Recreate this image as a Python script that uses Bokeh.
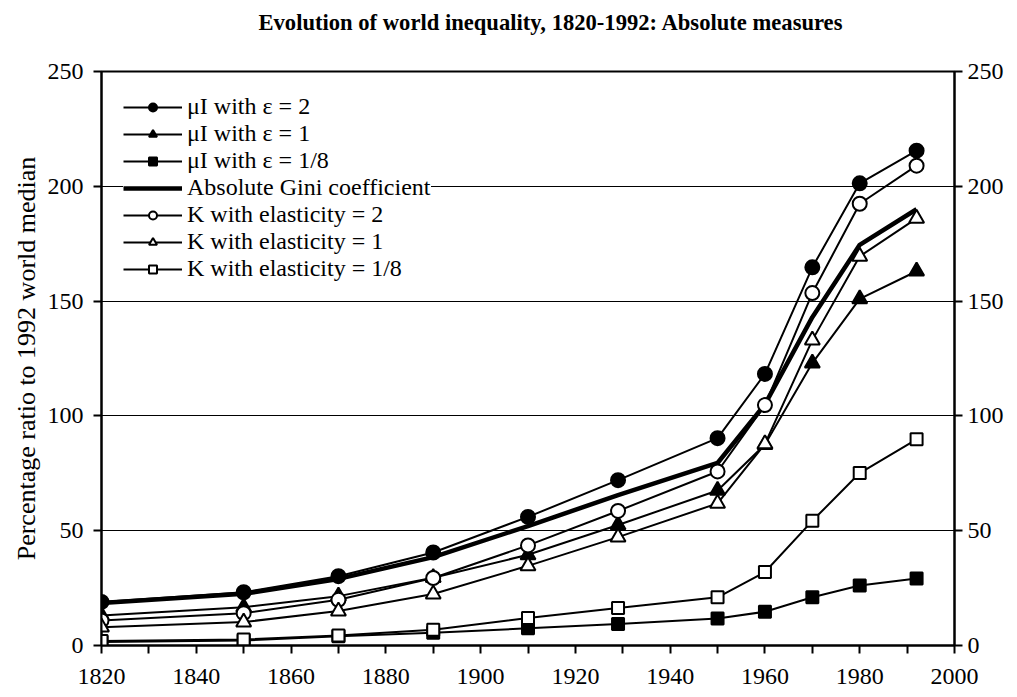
from bokeh.plotting import figure
from bokeh.models import (FixedTicker, LinearAxis, Legend, LegendItem, Range1d,
                          CustomJSTickFormatter)
from bokeh.embed import file_html
from bokeh.resources import INLINE

# ---- data ----
years = [1820, 1850, 1870, 1890, 1910, 1929, 1950, 1960, 1970, 1980, 1992]
mu_eps_2 = [19.0, 23.2, 30.2, 40.5, 56.0, 72.0, 90.3, 118.3, 164.7, 201.3, 215.5]
mu_eps_1 = [13.1, 16.7, 21.5, 29.5, 39.5, 52.5, 67.5, 87.5, 123.0, 151.0, 163.0]
mu_eps_8th = [1.5, 2.2, 4.0, 5.5, 7.5, 9.4, 11.8, 14.7, 21.0, 26.1, 29.2]
abs_gini = [18.5, 22.5, 29.0, 38.5, 52.0, 65.5, 79.5, 105.0, 143.0, 174.5, 190.0]
k_elast_2 = [10.9, 14.1, 19.9, 29.4, 43.6, 58.6, 75.8, 104.7, 153.5, 192.4, 209.0]
k_elast_1 = [8.0, 10.2, 15.0, 22.4, 34.7, 47.2, 61.9, 87.8, 133.0, 169.5, 186.0]
k_elast_8th = [2.0, 2.6, 4.4, 6.9, 12.0, 16.3, 21.0, 32.0, 54.3, 75.1, 89.8]

series_labels = [
    "\u03bcI with \u03b5 = 2",
    "\u03bcI with \u03b5 = 1",
    "\u03bcI with \u03b5 = 1/8",
    "Absolute Gini coefficient",
    "K with elasticity = 2",
    "K with elasticity = 1",
    "K with elasticity = 1/8",
]

x_ticks = [1820, 1840, 1860, 1880, 1900, 1920, 1940, 1960, 1980, 2000]
x_minor_ticks = [1830, 1850, 1870, 1890, 1910, 1930, 1950, 1970, 1990]
y_ticks = [0, 50, 100, 150, 200, 250]
grid_values = [50, 100, 150, 200]
x_min, x_max = 1820, 2000
y_min, y_max = 0, 250

FONT = "'Liberation Serif', 'Times New Roman', serif"

p = figure(
    width=1017, height=697,
    x_range=Range1d(x_min, x_max), y_range=Range1d(y_min, y_max),
    output_backend="svg", toolbar_location=None,
    min_border_left=101, min_border_right=63, min_border_top=71, min_border_bottom=52,
    title="Evolution of world inequality, 1820-1992: Absolute measures",
)
p.background_fill_color = "white"
p.border_fill_color = "white"
p.outline_line_color = "black"
p.outline_line_width = 2

p.title.text_font = FONT
p.title.text_font_size = "22.6px"
p.title.text_font_style = "bold"
p.title.text_color = "black"
p.title.align = "left"
p.title.offset = 157
p.title.vertical_align = "bottom"
p.title.standoff = 0

# invisible spacer between the title and the plot frame
spacer = LinearAxis(ticker=FixedTicker(ticks=[1900]),
                    formatter=CustomJSTickFormatter(code="return ''"))
spacer.axis_line_color = None
spacer.major_tick_line_color = None
spacer.minor_tick_line_color = None
spacer.major_tick_out = 37
spacer.major_tick_in = 0
spacer.minor_tick_out = 0
spacer.minor_tick_in = 0
spacer.major_label_standoff = 0
spacer.major_label_text_font_size = "1px"
p.add_layout(spacer, "above")

def style_axis(ax):
    ax.axis_line_color = "black"
    ax.axis_line_width = 2
    ax.major_tick_line_color = "black"
    ax.major_tick_line_width = 2
    ax.minor_tick_line_color = "black"
    ax.minor_tick_line_width = 2
    ax.major_tick_out = 8
    ax.major_tick_in = 0
    ax.minor_tick_out = 8
    ax.minor_tick_in = 0
    ax.major_label_text_font = FONT
    ax.major_label_text_font_size = "24px"
    ax.major_label_text_font_style = "normal"
    ax.major_label_text_color = "black"

xax = p.below[0]
xax.ticker = FixedTicker(ticks=x_ticks, minor_ticks=x_minor_ticks)
style_axis(xax)
xax.major_label_standoff = 15

yax = p.left[0]
yax.ticker = FixedTicker(ticks=y_ticks)
style_axis(yax)
yax.major_label_standoff = 10
yax.axis_label = "Percentage ratio to 1992 world median"
yax.axis_label_text_font = FONT
yax.axis_label_text_font_size = "26px"
yax.axis_label_text_font_style = "normal"
yax.axis_label_text_color = "black"
yax.axis_label_standoff = 4

rax = LinearAxis(ticker=FixedTicker(ticks=y_ticks))
style_axis(rax)
rax.major_label_standoff = 5
p.add_layout(rax, "right")

p.xgrid.visible = False
p.ygrid.ticker = FixedTicker(ticks=grid_values)
p.ygrid.grid_line_color = "black"
p.ygrid.grid_line_width = 1

specs = [
    (mu_eps_2, "circle", "black", 14),
    (mu_eps_1, "triangle", "black", 15),
    (mu_eps_8th, "square", "black", 12),
    (abs_gini, None, None, 0),
    (k_elast_2, "circle", "white", 14),
    (k_elast_1, "triangle", "white", 15),
    (k_elast_8th, "square", "white", 12),
]

items = []
for (vals, marker, fill, size), label in zip(specs, series_labels):
    if marker is None:
        lr = p.line(years, vals, line_color="black", line_width=4.5)
        items.append(LegendItem(label=label, renderers=[lr]))
    else:
        lr = p.line(years, vals, line_color="black", line_width=2)
        sr = p.scatter(years, vals, marker=marker, size=size, fill_color=fill,
                       line_color="black", line_width=2)
        items.append(LegendItem(label=label, renderers=[lr, sr]))

legend = Legend(items=items, location="top_left")
legend.margin = 22
legend.padding = 0
legend.spacing = 0
legend.glyph_width = 59
legend.glyph_height = 20
legend.label_height = 20
legend.label_standoff = 5
legend.label_text_font = FONT
legend.label_text_font_size = "24px"
legend.label_text_color = "black"
legend.border_line_color = None
legend.background_fill_color = "white"
legend.background_fill_alpha = 1.0
p.add_layout(legend)

open("out.html", "w").write(file_html(p, INLINE))
